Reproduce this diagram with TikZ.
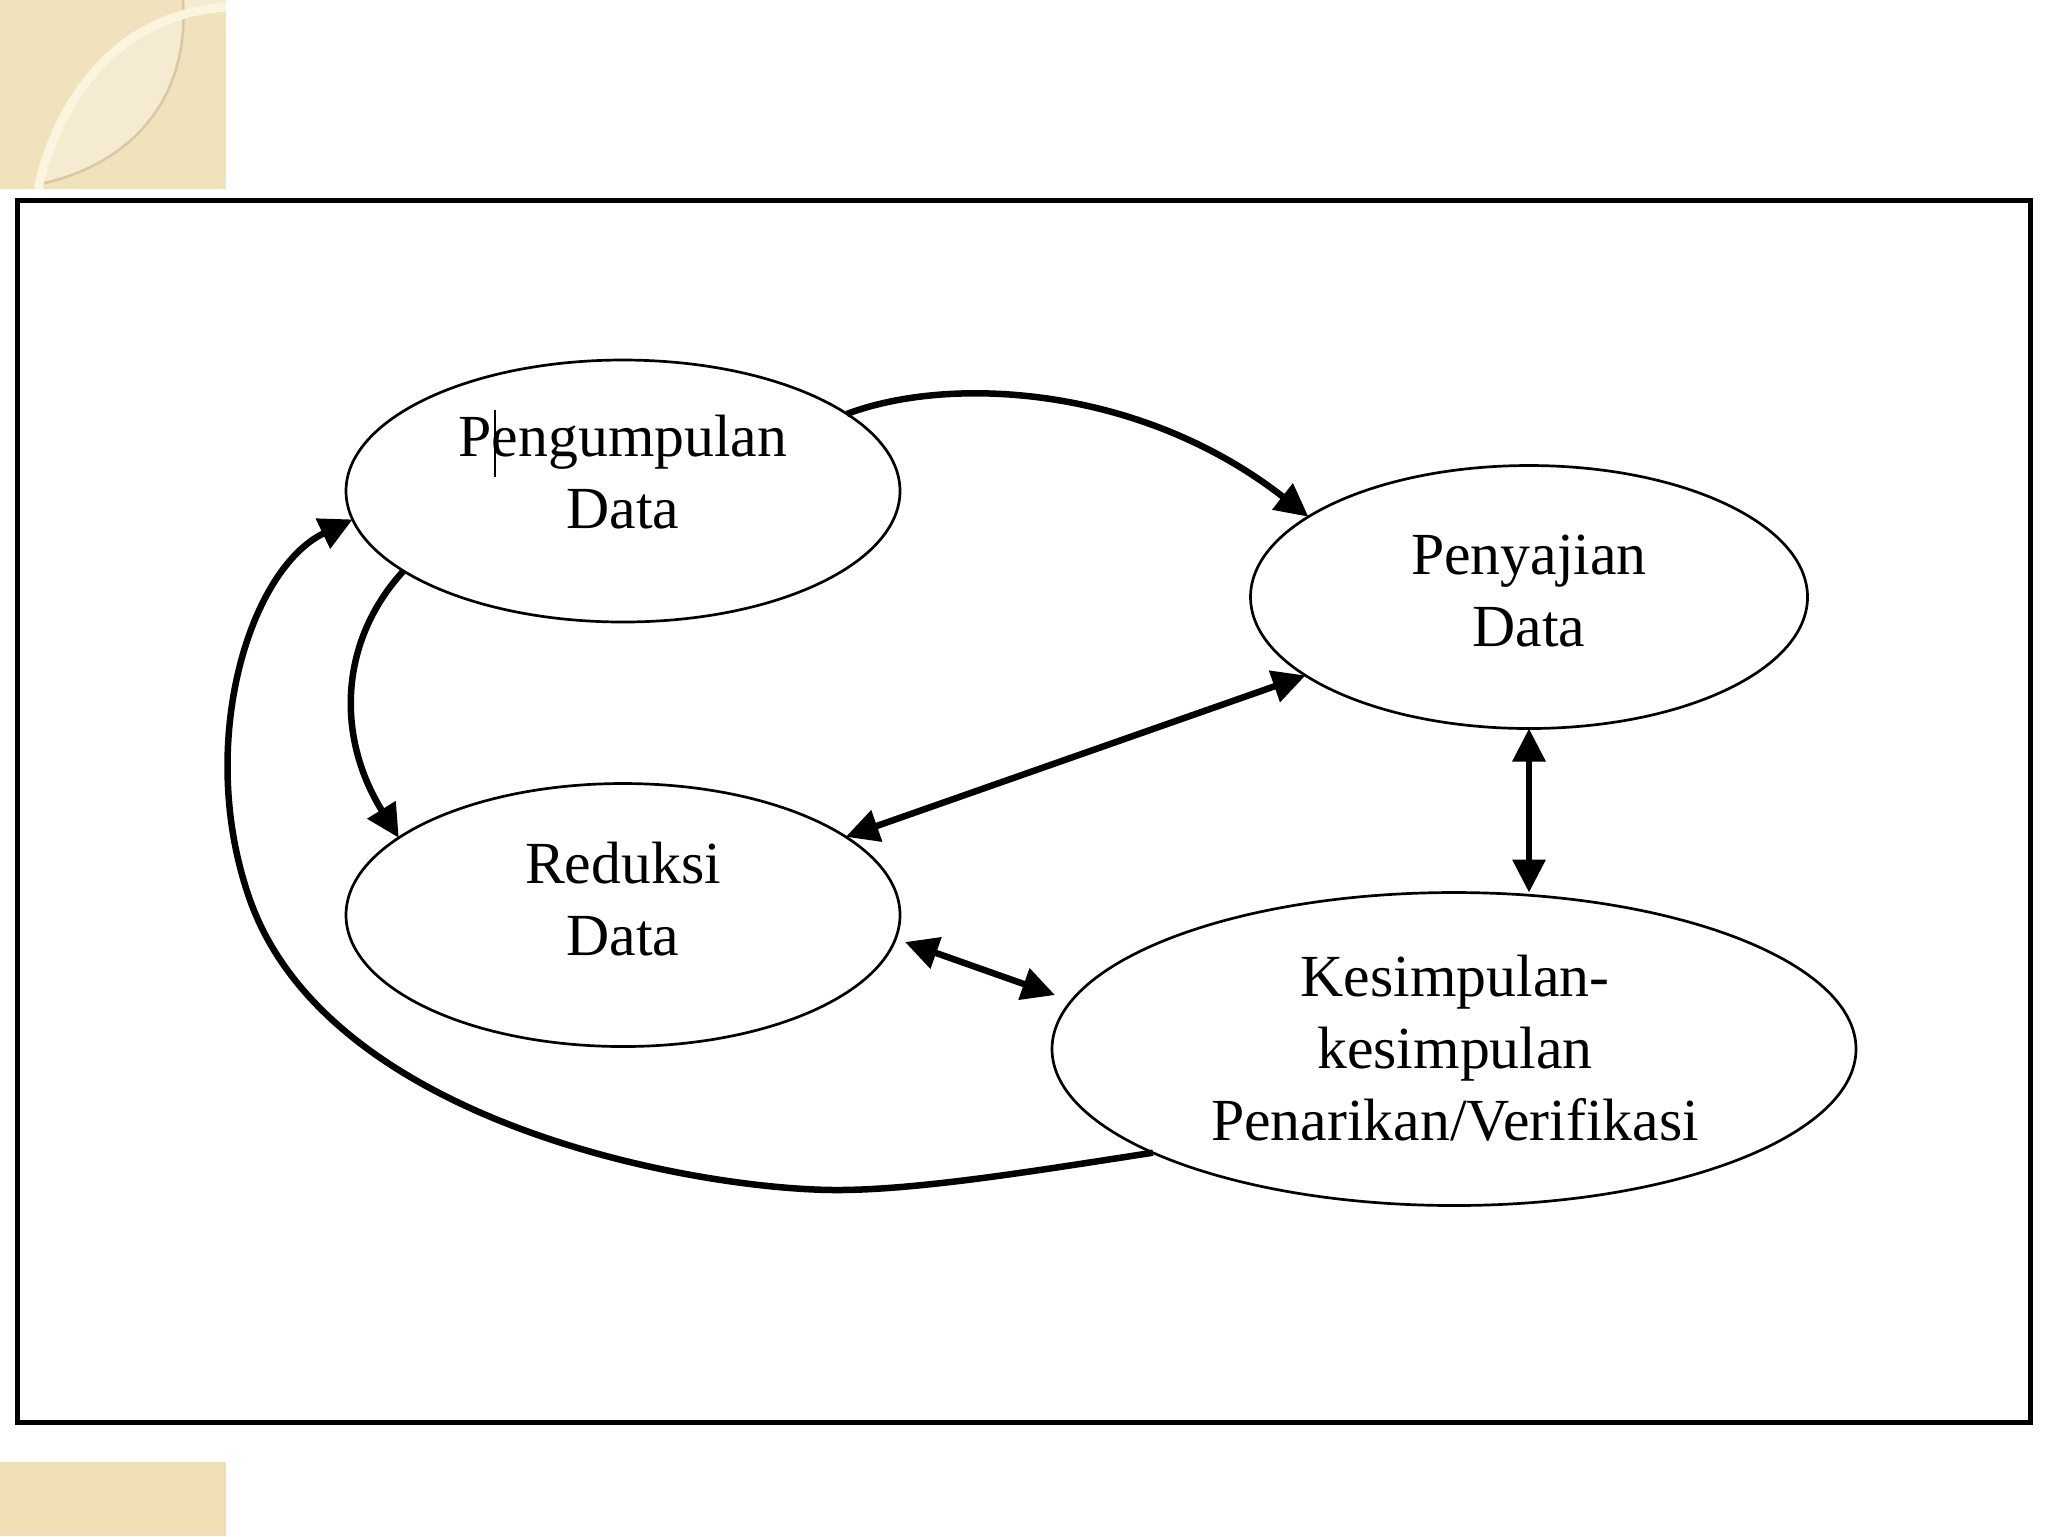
\documentclass[tikz,border=0pt]{standalone}
\usepackage{fontspec}
\setmainfont{Liberation Serif}
\usetikzlibrary{arrows.meta,shapes.geometric}
\definecolor{tanc}{HTML}{F0E2BD}
\definecolor{tanb}{HTML}{F0DFB5}
\definecolor{lensc}{HTML}{F5EBD1}
\definecolor{bandc}{HTML}{FBF4DF}
\definecolor{thinc}{HTML}{D9C8A0}
\begin{document}
\begin{tikzpicture}[x=0.1mm,y=-0.1mm,
  bubble/.style={ellipse,draw,line width=0.27mm,inner sep=0pt,outer sep=0pt},
  lbl/.style={align=center,font=\fontsize{17pt}{20.4pt}\selectfont,inner sep=0pt,anchor=base},
  link/.style={line width=0.65mm,-{Triangle[length=3.3mm,width=3.2mm]}},
  dlink/.style={line width=0.65mm,{Triangle[length=3.3mm,width=3.2mm]}-{Triangle[length=3.3mm,width=3.2mm]}}]
\useasboundingbox (0,0) rectangle (2048,1536);
\fill[white] (0,0) rectangle (2048,1536);
% decorations
\fill[tanc] (0,0) rectangle (226,189);
\fill[lensc] (40,187) .. controls (55,110) and (110,15) .. (226,7) -- (226,0) -- (183,0) .. controls (190,100) and (130,165) .. (43,182) -- cycle;
\draw[thinc, line width=0.25mm] (183,0) .. controls (190,100) and (130,165) .. (40,184);
\draw[bandc, line width=0.9mm] (38,189) .. controls (55,110) and (110,15) .. (226,7);
\fill[tanb] (0,1462) rectangle (226,1536);
% frame
\draw[line width=0.5mm] (17,200) rectangle (2030,1422);
% ellipses
\node[bubble,minimum width=55.4mm,minimum height=26.2mm] (pd) at (623,491) {};
\node[bubble,minimum width=55.7mm,minimum height=26.3mm] (pen) at (1529,597) {};
\node[bubble,minimum width=55.4mm,minimum height=26.3mm] (red) at (623,915) {};
\node[bubble,minimum width=80.4mm,minimum height=31.3mm] (kes) at (1454,1049) {};
% labels (base = baseline of last line)
\node[lbl] (pdt) at (623,528) {Pengumpulan\\Data};
\node[lbl] (pent) at (1529,646) {Penyajian\\Data};
\node[lbl] (redt) at (623,955) {Reduksi\\Data};
\node[lbl] (kest) at (1455,1140) {Kesimpulan-\\kesimpulan\\Penarikan/Verifikasi};
\draw[line width=0.15mm] (495,410) -- (495,477);
% connectors
\draw[link] (pd.19) .. controls (950,375) and (1140,385) .. (pen.160);
\draw[link] (pd.200) .. controls (340,640) and (335,735) .. (red.161);
\draw[link] (kes.199) .. controls (1040,1170) and (920,1190) .. (837,1190)
  .. controls (700,1190) and (330,1125) .. (250,900)
  .. controls (195,745) and (249,569) .. (pd.186);
\draw[dlink] (red) -- (pen);
\draw[dlink] (pen.south) -- (pen.south |- kes.north);
\coordinate (rk1) at (905,942);
\coordinate (rk2) at (1055,995);
\draw[dlink] (rk1) -- (rk2);
\end{tikzpicture}
\end{document}
